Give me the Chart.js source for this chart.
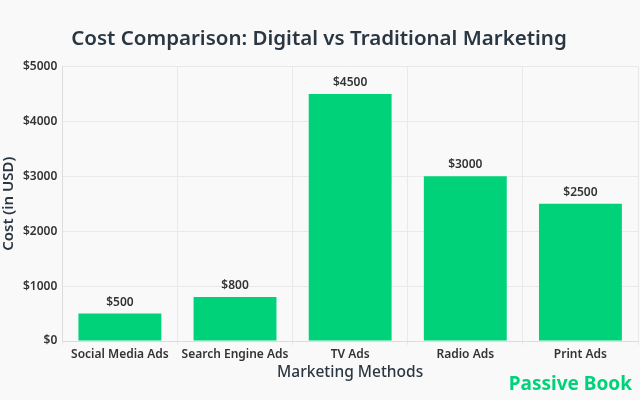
<!DOCTYPE html>
<html>
<head>
<meta charset="utf-8">
<script src="https://cdn.jsdelivr.net/npm/chart.js@4"></script>
<style>
html,body{margin:0;padding:0;background:#f9f9f9;}
#wrap{position:relative;width:640px;height:400px;}
#wm{position:absolute;right:8px;bottom:4px;font-family:"Noto Sans",sans-serif;font-weight:700;font-size:19px;color:#00d27a;}
</style>
</head>
<body>
<div id="wrap">
<canvas id="c" width="640" height="400"></canvas>
<div id="wm">Passive Book</div>
</div>
<script>
const categories = ["Social Media Ads","Search Engine Ads","TV Ads","Radio Ads","Print Ads"];
const costs = [500, 800, 4500, 3000, 2500];
const yTicks = [0, 1000, 2000, 3000, 4000, 5000];

const labelPlugin = {
  id: 'valueLabels',
  afterDatasetsDraw(chart) {
    const ctx = chart.ctx;
    const meta = chart.getDatasetMeta(0);
    ctx.save();
    ctx.font = '600 12px "Noto Sans"';
    ctx.fillStyle = '#333';
    ctx.textAlign = 'center';
    ctx.textBaseline = 'alphabetic';
    meta.data.forEach((bar, i) => {
      ctx.fillText('$' + costs[i], bar.x, bar.y - 8);
    });
    ctx.restore();
  }
};

new Chart(document.getElementById('c'), {
  type: 'bar',
  data: {
    labels: categories,
    datasets: [{
      data: costs,
      backgroundColor: '#00d27a',
      borderWidth: 0
    }]
  },
  options: {
    responsive: false,
    animation: false,
    layout: { padding: { top: 0, right: 2, bottom: 18, left: 0 } },
    plugins: {
      legend: { display: false },
      tooltip: { enabled: false },
      title: {
        display: true,
        text: 'Cost Comparison: Digital vs Traditional Marketing',
        color: '#2a3642',
        font: { family: 'Noto Sans', size: 20.5, weight: '600' },
        padding: { top: 27, bottom: 15 }
      }
    },
    scales: {
      x: {
        grid: { color: '#e9e9e9', drawTicks: true, tickLength: 4 },
        border: { color: '#dcdcdc' },
        ticks: { color: '#333', font: { family: 'Noto Sans', size: 12, weight: '600' }, padding: 2 },
        title: { display: true, text: 'Marketing Methods', color: '#2a3642', font: { family: 'Noto Sans', size: 15.5, weight: '500' }, padding: { top: 0, bottom: 0 } }
      },
      y: {
        min: 0, max: 5000,
        afterBuildTicks(axis) { axis.ticks = yTicks.map(v => ({ value: v })); },
        grid: { color: '#e9e9e9', drawTicks: false },
        border: { color: '#dcdcdc' },
        ticks: { color: '#333', font: { family: 'Noto Sans', size: 12, weight: '600' }, padding: 5, callback: v => '$' + v },
        title: { display: true, text: 'Cost (in USD)', color: '#2a3642', font: { family: 'Noto Sans', size: 15, weight: '600' }, padding: { top: 0, bottom: 0 } }
      }
    }
  },
  plugins: [labelPlugin]
});
</script>
</body>
</html>
